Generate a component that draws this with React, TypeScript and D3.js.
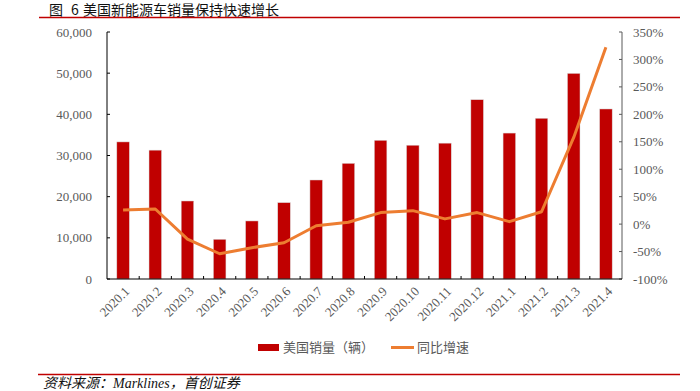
import React from "react";
import * as d3 from "d3";

const categories = ["2020.1","2020.2","2020.3","2020.4","2020.5","2020.6","2020.7","2020.8","2020.9","2020.10","2020.11","2020.12","2021.1","2021.2","2021.3","2021.4"];
const sales = [33300,31300,18950,9650,14100,18550,24050,28100,33700,32500,33000,43550,35450,39050,49950,41300];
const growth = [25.5,27.5,-27.5,-54,-43,-34,-3,3.5,21,24.5,9.5,21,4.5,22.5,158,322];
const leftTicks = [0,10000,20000,30000,40000,50000,60000];
const rightTicks = [-100,-50,0,50,100,150,200,250,300,350];

const W = 700, H = 391;
const L = 107, R = 622, T = 32, B = 279;
const gray = "#595959";
const serif = "'Liberation Serif','Times New Roman',serif";
const cjk = "'Noto Sans CJK SC',sans-serif";

export default function App() {
  const x = d3.scaleBand<string>().domain(categories).range([L, R]).paddingInner(0.61).paddingOuter(0.305);
  const band = d3.scaleBand<string>().domain(categories).range([L, R]);
  const yL = d3.scaleLinear().domain([0, 60000]).range([B, T]);
  const yR = d3.scaleLinear().domain([-100, 350]).range([B, T]);
  const line = d3.line<number>().x((_, i) => (band(categories[i]) as number) + band.bandwidth() / 2).y(d => yR(d));
  const fmt = d3.format(",");
  return (
    <svg width={W} height={H} style={{ position: "absolute", left: 0, top: 0, background: "#fff" }}>
      <text x={49} y={15} fontSize={14} fontFamily={cjk} fill="#111">
        <tspan>图</tspan>
        <tspan x={71}>6</tspan>
        <tspan x={83}>美国新能源车销量保持快速增长</tspan>
      </text>
      <line x1={39} x2={680} y1={17.5} y2={17.5} stroke="#C00000" strokeWidth={1.6} />
      {sales.map((v, i) => (
        <rect key={i} x={x(categories[i])} y={yL(v)} width={x.bandwidth()} height={B - yL(v)} fill="#C00000" stroke="#d9d9d9" strokeWidth={0.5} />
      ))}
      <path d={line(growth) || ""} fill="none" stroke="#ED7D31" strokeWidth={3} strokeLinejoin="round" />
      {/* left axis */}
      <line x1={L} x2={L} y1={T} y2={B} stroke="#000" strokeWidth={1} />
      {leftTicks.map(t => (
        <g key={t}>
          <line x1={L} x2={L + 3} y1={yL(t)} y2={yL(t)} stroke="#000" />
          <text x={92} y={yL(t)} dy="0.35em" textAnchor="end" fontSize={13} fontFamily={serif} fill={gray}>{fmt(t)}</text>
        </g>
      ))}
      {/* right axis */}
      <line x1={R} x2={R} y1={T} y2={B} stroke={gray} strokeWidth={1} />
      {rightTicks.map(t => (
        <g key={t}>
          <line x1={R - 3} x2={R} y1={yR(t)} y2={yR(t)} stroke={gray} />
          <text x={633} y={yR(t)} dy="0.35em" textAnchor="start" fontSize={13} fontFamily={serif} fill={gray}>{t + "%"}</text>
        </g>
      ))}
      {/* bottom axis */}
      <line x1={L} x2={R} y1={B} y2={B} stroke="#000" strokeWidth={1} />
      {categories.map((c, i) => (
        <g key={c}>
          {i > 0 && <line x1={band(c)} x2={band(c)} y1={B} y2={B - 3} stroke="#000" />}
          <text transform={`translate(${(band(c) as number) + band.bandwidth() / 2 + 4},${B + 10}) rotate(-45)`} textAnchor="end" dy="0.35em" fontSize={13} fontFamily={serif} fill={gray}>{c}</text>
        </g>
      ))}
      {/* legend */}
      <rect x={258} y={344} width={21} height={7} fill="#C00000" />
      <text x={283} y={347.5} dy="0.35em" fontSize={13} fontFamily={cjk} fill={gray}>美国销量（辆）</text>
      <line x1={391} x2={414} y1={347.5} y2={347.5} stroke="#ED7D31" strokeWidth={3} />
      <text x={417} y={347.5} dy="0.35em" fontSize={13} fontFamily={cjk} fill={gray}>同比增速</text>
      {/* footer */}
      <line x1={38} x2={680} y1={374.5} y2={374.5} stroke="#C00000" strokeWidth={1.6} />
      <text x={43} y={388} fontSize={14} fontStyle="italic" fontFamily={"'Liberation Serif'," + cjk} fill="#111">资料来源：Marklines，首创证券</text>
    </svg>
  );
}
